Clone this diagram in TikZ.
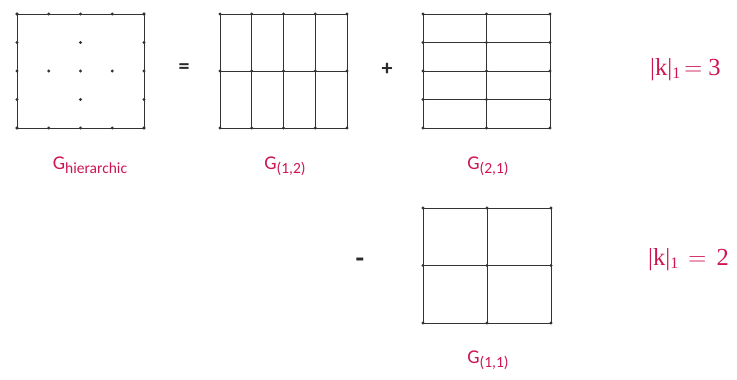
\documentclass[tikz,border=0pt]{standalone}
\usepackage{fontspec}
\usepackage{tikz}
\usetikzlibrary{positioning}
\newfontfamily\carlito{Carlito}
\newfontfamily\knormfont{Liberation Serif}
\definecolor{LabelRed}{HTML}{CC1650}
\definecolor{GridGray}{HTML}{333333}
\definecolor{OpGray}{HTML}{2A2A2A}
\newcommand{\Gsub}[1]{G\raisebox{-4.5pt}{\fontsize{15.5}{16}\selectfont #1}}
\newcommand{\kone}{|k|\raisebox{-3.5pt}{\fontsize{16}{16}\selectfont 1}}

\begin{document}
\begin{tikzpicture}[x=1pt, y=-1pt,
    gline/.style={draw=GridGray, line width=0.9pt},
    gdot/.style={fill=GridGray},
    glabel/.style={font=\carlito\fontsize{19.5}{20}\selectfont, text=LabelRed, anchor=base},
    knorm/.style={font=\knormfont\fontsize{24.5}{26}\selectfont, text=LabelRed, anchor=base west, inner sep=0pt},
    oper/.style={font=\carlito\bfseries\fontsize{22}{24}\selectfont, text=OpGray, inner sep=0pt}
  ]
    \useasboundingbox (0,0) rectangle (737,380);

    % Hierarchical grid: only border and cross points
    \draw[gline] (17,14) rectangle (144,128);
    \foreach \i in {0,...,4} {
      \fill[gdot] ({17+31.75*\i},14) circle (1.6pt);
      \fill[gdot] ({17+31.75*\i},128) circle (1.6pt);
      \fill[gdot] (17,{14+28.5*\i}) circle (1.6pt);
      \fill[gdot] (144,{14+28.5*\i}) circle (1.6pt);
    }
    \foreach \p in {(80.5,42.5), (48.75,71), (80.5,71), (112.25,71), (80.5,99.5)}
      \fill[gdot] \p circle (1.6pt);

    % Grid (1,2): four columns, two rows
    \foreach \i in {0,...,4}
      \draw[gline] ({220+31.75*\i},14) -- ({220+31.75*\i},128);
    \foreach \j in {0,...,2}
      \draw[gline] (220,{14+57*\j}) -- (347,{14+57*\j});
    \foreach \i in {0,...,4}
      \foreach \j in {0,...,2}
        \fill[gdot] ({220+31.75*\i},{14+57*\j}) circle (1.6pt);

    % Grid (2,1): two columns, four rows
    \foreach \i in {0,...,2}
      \draw[gline] ({423+63.5*\i},14) -- ({423+63.5*\i},128);
    \foreach \j in {0,...,4}
      \draw[gline] (423,{14+28.5*\j}) -- (550,{14+28.5*\j});
    \foreach \i in {0,...,2}
      \foreach \j in {0,...,4}
        \fill[gdot] ({423+63.5*\i},{14+28.5*\j}) circle (1.6pt);

    % Grid (1,1): two by two
    \foreach \i in {0,...,2}
      \draw[gline] ({423+64*\i},208) -- ({423+64*\i},323);
    \foreach \j in {0,...,2}
      \draw[gline] (423,{208+57.5*\j}) -- (551,{208+57.5*\j});
    \foreach \i in {0,...,2}
      \foreach \j in {0,...,2}
        \fill[gdot] ({423+64*\i},{208+57.5*\j}) circle (1.6pt);

    % Operators
    \node[oper] (eq) at (184,68.5) {=};
    \node[oper] (plus) at (387,69) {+};
    \node[oper, font=\carlito\bfseries\fontsize{28}{28}\selectfont] (minus) at (360,263) {-};

    % Grid names
    \node[glabel] (lhier) at (90,169) {\Gsub{hierarchic}};
    \node[glabel] (l12) at (285,169) {\Gsub{(1,2)}};
    \node[glabel] (l21) at (488,169) {\Gsub{(2,1)}};
    \node[glabel] (l11) at (488,363) {\Gsub{(1,1)}};

    % Level sums
    \node[knorm] (k3) at (650,75) {\kone\,$=$\ 3};
    \node[knorm] (k2) at (648,265) {\kone\ \,$=$\ \,2};

  \end{tikzpicture}
\end{document}
